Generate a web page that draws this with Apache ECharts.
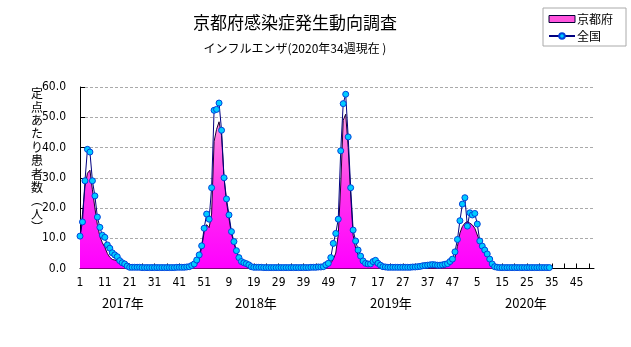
<!DOCTYPE html>
<html>
<head>
<meta charset="utf-8">
<script src="https://cdn.jsdelivr.net/npm/echarts@6/dist/echarts.min.js"></script>
<style>
html,body{margin:0;padding:0;background:#fff;}
#c{width:631px;height:347px;}
</style>
</head>
<body>
<div id="c"></div>
<script>
// ---- data ----
const years = ['2017', '2018', '2019', '2020'];
const weeksPerYear = 52;
const yearLabels = ['2017年', '2018年', '2019年', '2020年'];
const yTicks = [0, 10, 20, 30, 40, 50, 60];

const kyoto2017 = [10.0, 18.0, 27.0, 31.5, 32.5, 26.0, 20.0, 14.5, 10.6, 8.5, 7.0, 5.0, 3.7, 3.0, 2.8, 2.5, 1.9, 1.2, 0.7, 0.4, 0.2,
  0.1, 0.1, 0.1, 0.0, 0.1, 0.0, 0.0, 0.0, 0.0, 0.0, 0.0, 0.0, 0.0, 0.0, 0.0, 0.0, 0.0, 0.1, 0.1,
  0.1, 0.1, 0.2, 0.2, 0.4, 0.7, 1.0, 1.5, 3.5, 7.0, 12.0, 14.5];
const kyoto2018 = [13.5, 18.0, 42.0, 46.0, 48.5, 44.0, 30.0, 22.0, 16.5, 11.5, 8.5, 5.5, 3.5, 2.0, 1.5, 1.0, 0.7, 0.4, 0.3, 0.2,
  0.1, 0.1, 0.1, 0.1, 0.0, 0.0, 0.0, 0.0, 0.0, 0.0, 0.0, 0.0, 0.0, 0.0, 0.0, 0.0, 0.0, 0.0, 0.0, 0.1, 0.1, 0.1, 0.1, 0.1,
  0.2, 0.3, 0.5, 0.8, 1.2, 1.8, 3.0, 5.1];
const kyoto2019 = [11.1, 27.6, 49.0, 51.0, 40.0, 24.3, 11.0, 6.7, 4.5, 2.9, 2.1, 1.8, 1.5, 1.5, 2.0, 2.3, 1.5, 0.8, 0.5, 0.3,
  0.2, 0.1, 0.1, 0.1, 0.1, 0.0, 0.0, 0.0, 0.0, 0.0, 0.0, 0.0, 0.0, 0.0, 0.1, 0.1, 0.1, 0.2, 0.2, 0.2, 0.2, 0.2, 0.3,
  0.5, 0.8, 1.5, 2.5, 3.5, 7.3, 11.7, 13.9, 15.0];
const kyoto2020 = [15.5, 15.0, 14.4, 13.3, 11.1, 8.9, 7.5, 6.7, 5.6, 4.0, 1.2, 0.3,
  0.1, 0.1, 0.0, 0.0, 0.0, 0.0, 0.0, 0.0, 0.0, 0.0, 0.0, 0.0, 0.0, 0.0, 0.0, 0.0, 0.0, 0.0, 0.0, 0.0, 0.0, 0.0];

const national2017 = [10.7, 15.4, 29.0, 39.4, 38.5, 29.0, 24.0, 17.0, 13.6, 11.0, 10.3, 7.8, 6.7, 5.2, 4.5, 3.9, 2.6, 1.9, 1.5, 0.8, 0.4,
  0.4, 0.4, 0.4, 0.4, 0.3, 0.3, 0.3, 0.3, 0.3, 0.3, 0.3, 0.3, 0.3, 0.3, 0.3, 0.3, 0.3, 0.3, 0.4,
  0.4, 0.4, 0.4, 0.5, 0.6, 1.0, 1.5, 2.8, 4.5, 7.5, 13.3, 18.0];
const national2018 = [16.3, 26.7, 52.3, 52.6, 54.7, 45.7, 30.0, 23.0, 17.7, 12.2, 8.9, 5.9, 3.6, 2.3, 1.9, 1.6, 1.2, 0.6, 0.4, 0.4, 0.4,
  0.4, 0.3, 0.3, 0.3, 0.3, 0.3, 0.3, 0.3, 0.3, 0.3, 0.3, 0.3, 0.3, 0.3, 0.3, 0.3, 0.3, 0.3, 0.3, 0.3, 0.4,
  0.4, 0.4, 0.5, 0.5, 0.6, 1.2, 1.7, 3.6, 8.3, 11.6];
const national2019 = [16.3, 38.9, 54.5, 57.6, 43.5, 26.7, 12.7, 9.1, 6.1, 4.1, 2.5, 1.7, 1.5, 1.5, 2.3, 2.7, 1.7, 1.1, 0.6, 0.5,
  0.4, 0.4, 0.4, 0.4, 0.4, 0.4, 0.4, 0.4, 0.4, 0.4, 0.5, 0.5, 0.6, 0.7,
  0.9, 1.0, 1.1, 1.2, 1.3, 1.2, 1.1, 1.1, 1.2, 1.4,
  1.6, 2.3, 3.1, 5.5, 9.6, 15.8, 21.3, 23.4];
const national2020 = [14.0, 18.4, 17.7, 18.2, 14.7, 9.1, 7.4, 6.1, 4.8, 3.1, 1.5, 0.6,
  0.4, 0.3, 0.3, 0.3, 0.3, 0.3, 0.3, 0.3, 0.3, 0.3, 0.3, 0.3, 0.3, 0.3, 0.3, 0.3, 0.3, 0.3, 0.3, 0.3, 0.3, 0.3];

// ---- build ----
const categories = [];
years.forEach(y => { for (let w = 1; w <= weeksPerYear; w++) categories.push(String(w)); });
function pad(a) { const r = a.slice(); while (r.length < weeksPerYear) r.push(null); return r; }
const kyoto = [].concat(pad(kyoto2017), pad(kyoto2018), pad(kyoto2019), pad(kyoto2020));
const national = [].concat(pad(national2017), pad(national2018), pad(national2019), pad(national2020));

const numFont = '"Liberation Sans Narrow", "DejaVu Sans Condensed", "Liberation Sans", sans-serif';
const jpFont = '"Noto Sans CJK JP", sans-serif';

const chart = echarts.init(document.getElementById('c'), null, {renderer: 'canvas'});
chart.setOption({
  animation: false,
  backgroundColor: '#fff',
  title: {
    text: '京都府感染症発生動向調査',
    subtext: 'インフルエンザ(2020年34週現在 )',
    left: 290, top: 9, textAlign: 'center',
    itemGap: 11,
    textStyle: {fontFamily: jpFont, fontSize: 17, fontWeight: 'normal', color: '#000'},
    subtextStyle: {fontFamily: jpFont, fontSize: 12, color: '#000'}
  },
  legend: {
    orient: 'vertical',
    left: 543, top: 8,
    padding: [5, 13, 4, 5],
    itemGap: 5,
    itemWidth: 26, itemHeight: 7,
    borderColor: '#aaa', borderWidth: 1,
    textStyle: {fontFamily: jpFont, fontSize: 12, color: '#000', padding: [0, 0, 0, -3]},
    data: [
      {name: '京都府', icon: 'rect', itemStyle: {color: '#ff55dd', borderColor: '#000033', borderWidth: 1}},
      {name: '全国'}
    ]
  },
  grid: {left: 80, right: 37, top: 87, bottom: 78.5, containLabel: false},
  xAxis: {
    type: 'category',
    data: categories,
    boundaryGap: false,
    axisLine: {lineStyle: {color: '#000', width: 1}},
    axisTick: {inside: true, length: 5, interval: 4, lineStyle: {color: '#000'}},
    axisLabel: {interval: 9, margin: 8, fontFamily: numFont, fontSize: 12, color: '#000'},
    splitLine: {show: false}
  },
  yAxis: {
    type: 'value',
    min: yTicks[0], max: yTicks[yTicks.length - 1], interval: 10,
    axisLine: {show: true, lineStyle: {color: '#000', width: 1}},
    axisTick: {show: true, inside: true, length: 5, lineStyle: {color: '#000'}},
    axisLabel: {margin: 14, fontFamily: numFont, fontSize: 12, color: '#000', formatter: v => v.toFixed(1)},
    splitLine: {show: true, lineStyle: {color: '#aaa', type: [3, 2], width: 1}}
  },
  graphic: [
    {type: 'text', left: 31, top: 87, style: {text: '定\n点\nあ\nた\nり\n患\n者\n数\n︵\n人\n︶', font: '12px "Noto Sans CJK JP"', lineHeight: 13.4, fill: '#000', align: 'center'}},
    {type: 'text', left: 102, top: 297, style: {text: yearLabels[0], font: '13px "Noto Sans CJK JP"', fill: '#000'}},
    {type: 'text', left: 235, top: 297, style: {text: yearLabels[1], font: '13px "Noto Sans CJK JP"', fill: '#000'}},
    {type: 'text', left: 370, top: 297, style: {text: yearLabels[2], font: '13px "Noto Sans CJK JP"', fill: '#000'}},
    {type: 'text', left: 505, top: 297, style: {text: yearLabels[3], font: '13px "Noto Sans CJK JP"', fill: '#000'}}
  ],
  series: [
    {
      name: '京都府', type: 'line', data: kyoto,
      showSymbol: false, symbol: 'none',
      lineStyle: {color: '#1a0033', width: 1},
      itemStyle: {color: '#ff55dd'},
      areaStyle: {
        opacity: 1,
        color: new echarts.graphic.LinearGradient(0, 0, 0, 1, [
          {offset: 0, color: '#ff99dd'}, {offset: 0.5, color: '#ff33ee'}, {offset: 1, color: '#ff00ff'}
        ])
      },
      z: 1
    },
    {
      name: '全国', type: 'line', data: national,
      showSymbol: true, showAllSymbol: true,
      symbol: 'circle', symbolSize: 6,
      lineStyle: {color: '#000080', width: 1},
      itemStyle: {color: '#00ccff', borderColor: '#0044dd', borderWidth: 1},
      z: 3
    }
  ]
});
</script>
</body>
</html>
